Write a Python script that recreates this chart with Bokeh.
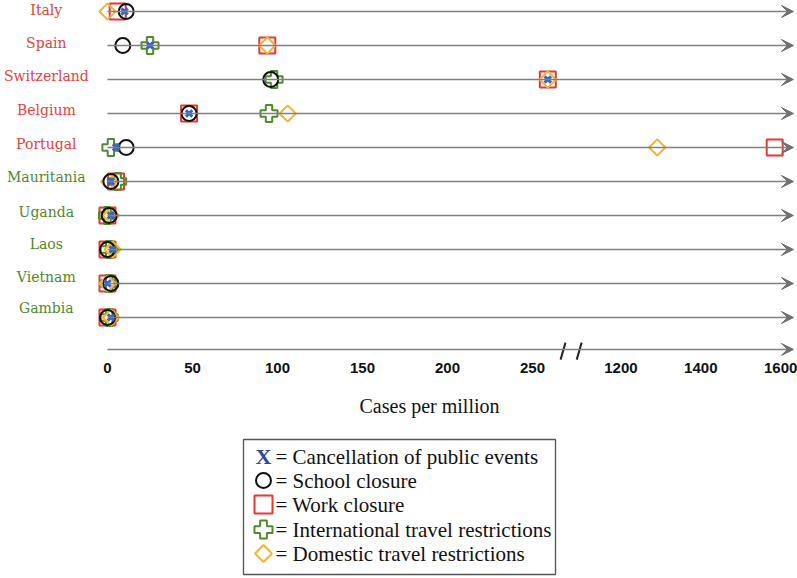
import math
from bokeh.plotting import figure
from bokeh.models import ColumnDataSource, Range1d, FixedTicker, Arrow, VeeHead
from bokeh.layouts import column
from bokeh.core.properties import value
from bokeh.embed import file_html
from bokeh.resources import INLINE

# ---------------- data ----------------
countries = ["Italy", "Spain", "Switzerland", "Belgium", "Portugal",
             "Mauritania", "Uganda", "Laos", "Vietnam", "Gambia"]
country_group = ["high"] * 5 + ["low"] * 5

cancel_events   = [10, 25, 259, 48, 5, 2, 2, 3, 0, 2]
school_closure  = [11, 9, 96, 48, 11, 2, 1, 0, 2, 0]
work_closure    = [6, 94, 259, 48, 1585, 5, 0, 0, 0, 0]
intl_travel     = [None, 25, 98, 95, 2, 6, 0, 1, 1, 1]
domestic_travel = [0, 94, 259, 106, 1291, 1, 2, 3, 0, 2]

tick_values = [0, 50, 100, 150, 200, 250, 1200, 1400, 1600]
x_title = "Cases per million"

legend_labels = ["= Cancellation of public events", "= School closure",
                 "= Work closure", "= International travel restrictions",
                 "= Domestic travel restrictions"]

# ---------------- styles ----------------
RED = "#e8372f"
GREEN = "#4e8c2f"
ORANGE = "#f5b330"
BLUE = "#3a62c4"
NAVY = "#2b4a9c"
GRAY = "#808080"
LABEL_RED = "#e5423b"
LABEL_GREEN = "#4f8a2c"
label_dy = [-1, -2, -3, -3, -3, -4, -3, -5, -6, -9]   # px nudges of the row labels


# broken axis: linear to ~275, then compressed segment from 1200 upward
def to_axis(v):
    if v <= 275:
        return float(v)
    return 302.0 + (v - 1200) * 0.235


rows = list(range(len(countries)))


def series_source(vals):
    xs, ys = [], []
    for r, v in zip(rows, vals):
        if v is None:
            continue
        xs.append(to_axis(v))
        ys.append(r)
    return ColumnDataSource(dict(x=xs, y=ys))


p = figure(width=797, height=382,
           x_range=Range1d(-62.94, 405.88), y_range=Range1d(10.265, -0.3235),
           output_backend="svg", toolbar_location=None,
           y_axis_location=None,
           min_border_left=0, min_border_right=0, min_border_top=0,
           min_border_bottom=22)
p.grid.visible = False
p.outline_line_color = None
p.background_fill_color = "white"

ax = p.xaxis[0]
tick_pos = [to_axis(v) for v in tick_values]
ax.ticker = FixedTicker(ticks=tick_pos)
ax.major_label_overrides = {tp: str(v) for tp, v in zip(tick_pos, tick_values)}
ax.axis_line_color = None
ax.major_tick_line_color = None
ax.minor_tick_line_color = None
ax.major_tick_out = 0
ax.major_label_standoff = 2
ax.major_label_text_font = "Liberation Sans"
ax.major_label_text_font_style = "bold"
ax.major_label_text_font_size = "15px"
ax.major_label_text_color = "#111111"

# row lines with arrow heads
row_src = ColumnDataSource(dict(x0=[0.0] * len(rows), x1=[403.5] * len(rows), y=rows))
p.add_layout(Arrow(end=VeeHead(size=12, fill_color="#707070", line_color="#707070", line_width=1),
                   x_start="x0", y_start="y", x_end="x1", y_end="y", source=row_src,
                   line_color=GRAY, line_width=1.5))

# x axis line with arrow head (drawn at the bottom of the rows)
axis_y = 9.94
p.add_layout(Arrow(end=VeeHead(size=12, fill_color="#707070", line_color="#707070", line_width=1),
                   x_start=0, y_start=axis_y, x_end=403.5, y_end=axis_y,
                   line_color=GRAY, line_width=1.5))
# break marks
p.segment(x0=[266.5, 276.0], y0=[axis_y + 0.3, axis_y + 0.3],
          x1=[269.4, 278.9], y1=[axis_y - 0.2, axis_y - 0.2],
          line_color="#222222", line_width=2)

# country labels
lab_src = ColumnDataSource(dict(
    x=[-36] * len(rows), y=rows, text=countries, dy=label_dy,
    color=[LABEL_RED if g == "high" else LABEL_GREEN for g in country_group]))
p.text(x="x", y="y", text="text", text_color="color", y_offset="dy", source=lab_src,
       text_font=value("DejaVu Serif"), text_font_size="14px",
       text_align="center", text_baseline="middle")

# markers
p.scatter("x", "y", source=series_source(work_closure), marker="square", size=16,
          line_color=RED, line_width=2, fill_alpha=0)
p.scatter("x", "y", source=series_source(intl_travel), marker="plus", size=17,
          line_color=GREEN, line_width=2, fill_alpha=0)
p.scatter("x", "y", source=series_source(domestic_travel), marker="square", size=11.5,
          angle=math.pi / 4, line_color=ORANGE, line_width=2, fill_alpha=0)
p.scatter("x", "y", source=series_source(school_closure), marker="circle", size=15,
          line_color="#111111", line_width=2, fill_alpha=0)
p.scatter("x", "y", source=series_source(cancel_events), marker="x", size=9,
          line_color=BLUE, line_width=3)

# ---------------- axis title + legend panel ----------------
LG_H = 196
lg = figure(width=797, height=LG_H, x_range=Range1d(0, 797), y_range=Range1d(LG_H, 0),
            output_backend="svg", toolbar_location=None,
            x_axis_location=None, y_axis_location=None, min_border=0)
lg.grid.visible = False
lg.outline_line_color = None

lg.text(x=[429], y=[23], text=[x_title], text_color="#111111",
        text_font=value("Liberation Serif"), text_font_size="20px",
        text_align="center", text_baseline="middle")

lg.quad(left=[243], right=[555], top=[57], bottom=[192], fill_color=None,
        line_color="#555555", line_width=1.3)
row_y = [74, 98, 122, 147, 171]
sym_x = 263
lg.text(x=[sym_x], y=[row_y[0]], text=["X"], text_color=NAVY,
        text_font=value("Liberation Serif"), text_font_style="bold",
        text_font_size="22px", text_align="center", text_baseline="middle")
lg.scatter(x=[sym_x], y=[row_y[1]], marker="circle", size=15, line_color="#111111",
           line_width=2, fill_alpha=0)
lg.scatter(x=[sym_x], y=[row_y[2]], marker="square", size=18, line_color=RED,
           line_width=2, fill_alpha=0)
lg.scatter(x=[sym_x], y=[row_y[3]], marker="plus", size=18, line_color=GREEN,
           line_width=2, fill_alpha=0)
lg.scatter(x=[sym_x], y=[row_y[4]], marker="square", size=12, angle=math.pi / 4,
           line_color=ORANGE, line_width=2, fill_alpha=0)
lg.text(x=[275] * 5, y=row_y, text=legend_labels, text_color="#111111",
        text_font=value("Liberation Serif"), text_font_size="21px",
        text_align="left", text_baseline="middle")

layout = column(p, lg)
open("out.html", "w").write(file_html(layout, INLINE))
